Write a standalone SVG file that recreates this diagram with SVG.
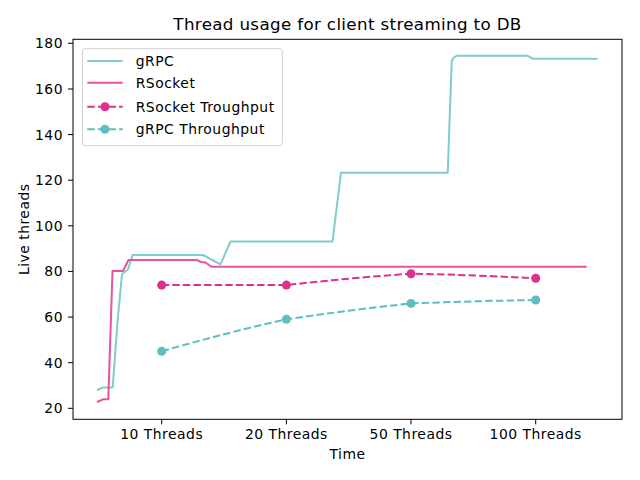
<svg xmlns="http://www.w3.org/2000/svg" width="640" height="480" viewBox="0 0 640 480">
<style>
text{font-family:"DejaVu Sans","Liberation Sans",sans-serif;fill:#000;font-size:13.9px;letter-spacing:0.5px}
.title{font-size:16.7px;letter-spacing:0.35px}
.tick{stroke:#000;stroke-width:1}
.grpc{fill:none;stroke:#7fcdcd;stroke-width:2;stroke-linejoin:round}
.rsock{fill:none;stroke:#e9529c;stroke-width:2;stroke-linejoin:round}
.rtp{fill:none;stroke:#de2f8c;stroke-width:2;stroke-dasharray:7.4 3.2}
.gtp{fill:none;stroke:#5ebfbf;stroke-width:2;stroke-dasharray:7.4 3.2}
.rdot{fill:#de2f8c}
.gdot{fill:#5ebfbf}
</style>
<rect width="640" height="480" fill="#fff"/>
<g id="axes">
<rect x="73" y="39.3" width="549" height="380" fill="none" stroke="#000" stroke-width="1"/>
<g id="yticks">
<line class="tick" x1="68" y1="408.3" x2="73" y2="408.3"/>
<line class="tick" x1="68" y1="362.7" x2="73" y2="362.7"/>
<line class="tick" x1="68" y1="317.1" x2="73" y2="317.1"/>
<line class="tick" x1="68" y1="271.4" x2="73" y2="271.4"/>
<line class="tick" x1="68" y1="225.8" x2="73" y2="225.8"/>
<line class="tick" x1="68" y1="180.2" x2="73" y2="180.2"/>
<line class="tick" x1="68" y1="134.6" x2="73" y2="134.6"/>
<line class="tick" x1="68" y1="89" x2="73" y2="89"/>
<line class="tick" x1="68" y1="43.3" x2="73" y2="43.3"/>
<g text-anchor="end">
<text x="63" y="413.3">20</text>
<text x="63" y="367.7">40</text>
<text x="63" y="322.1">60</text>
<text x="63" y="276.4">80</text>
<text x="63" y="230.8">100</text>
<text x="63" y="185.2">120</text>
<text x="63" y="139.6">140</text>
<text x="63" y="94">160</text>
<text x="63" y="48.3">180</text>
</g>
</g>
<g id="xticks">
<line class="tick" x1="161.7" y1="419.3" x2="161.7" y2="424.3"/>
<line class="tick" x1="286.4" y1="419.3" x2="286.4" y2="424.3"/>
<line class="tick" x1="411" y1="419.3" x2="411" y2="424.3"/>
<line class="tick" x1="535.7" y1="419.3" x2="535.7" y2="424.3"/>
<g text-anchor="middle">
<text x="161.7" y="439">10 Threads</text>
<text x="286.4" y="439">20 Threads</text>
<text x="411" y="439">50 Threads</text>
<text x="535.7" y="439">100 Threads</text>
</g>
</g>
<text x="347.5" y="459" text-anchor="middle">Time</text>
<text transform="translate(28.5,229.3) rotate(-90)" text-anchor="middle">Live threads</text>
<text class="title" x="347.5" y="30" text-anchor="middle">Thread usage for client streaming to DB</text>
</g>
<g id="connectors">
<polyline id="grpc" class="grpc" points="97,390 103,387.5 112.7,387.5 117.5,322 122,274 128,269.5 132.5,255 203,255 220.5,264.3 230.5,241.5 332.5,241.5 341,172.7 447.7,172.7 451.7,61.7 453.2,58 457,55.7 527.3,55.7 532.7,58.7 597.7,58.7"/>
<polyline id="rsocket" class="rsock" points="97,402 103,399.3 108.3,399.3 112.5,271 123,271 128.5,260 197,260 201,262 205.5,262.5 211.5,266.7 586.7,266.7"/>
<path id="rsocket-tp" class="rtp" d="M161.7,285.1 L286.4,285.1 Q348,278 411,273.7 Q475,275 535.7,278.3"/>
<path id="grpc-tp" class="gtp" d="M161.7,351.3 Q225,333 286.4,319.3 Q350,310 411,303.4 Q475,301 535.7,300"/>
</g>
<g id="rsocket-tp-points">
<circle class="rdot" cx="161.7" cy="285.1" r="4.5"/>
<circle class="rdot" cx="286.4" cy="285.1" r="4.5"/>
<circle class="rdot" cx="411" cy="273.7" r="4.5"/>
<circle class="rdot" cx="535.7" cy="278.3" r="4.5"/>
</g>
<g id="grpc-tp-points">
<circle class="gdot" cx="161.7" cy="351.3" r="4.5"/>
<circle class="gdot" cx="286.4" cy="319.3" r="4.5"/>
<circle class="gdot" cx="411" cy="303.4" r="4.5"/>
<circle class="gdot" cx="535.7" cy="300" r="4.5"/>
</g>
<g id="legend">
<rect x="82.5" y="48.7" width="199.8" height="97" rx="3" fill="#fff" fill-opacity="0.8" stroke="#d0d0d0" stroke-width="1"/>
<line class="grpc" x1="87.3" y1="61" x2="122.7" y2="61"/>
<line class="rsock" x1="87.3" y1="82.7" x2="122.7" y2="82.7"/>
<line class="rtp" x1="87.3" y1="106.7" x2="122.7" y2="106.7"/>
<circle class="rdot" cx="105" cy="106.7" r="4.5"/>
<line class="gtp" x1="87.3" y1="129.3" x2="122.7" y2="129.3"/>
<circle class="gdot" cx="105" cy="129.3" r="4.5"/>
<text x="135.7" y="66">gRPC</text>
<text x="135.7" y="87.7">RSocket</text>
<text x="135.7" y="111.7">RSocket Troughput</text>
<text x="135.7" y="134.3">gRPC Throughput</text>
</g>
</svg>
